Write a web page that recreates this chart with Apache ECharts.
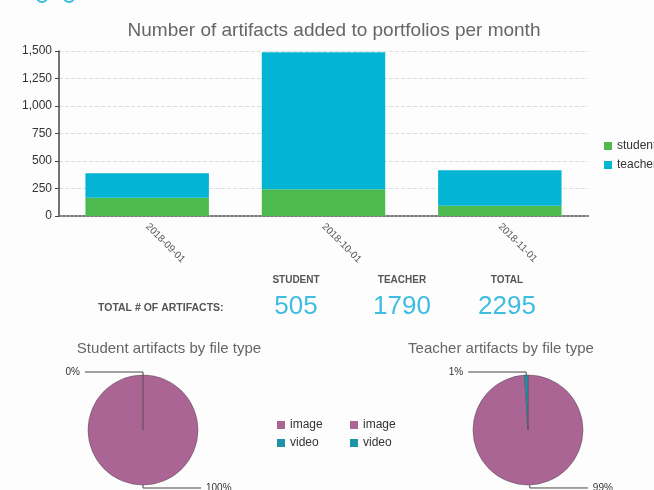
<!DOCTYPE html>
<html>
<head>
<meta charset="utf-8">
<script src="https://cdn.jsdelivr.net/npm/echarts@6/dist/echarts.min.js"></script>
<style>
  html, body { margin: 0; padding: 0; background: #fdfdfd; }
  #chart { width: 654px; height: 490px; }
</style>
</head>
<body>
<div id="chart"></div>
<script>
const months = ['2018-09-01', '2018-10-01', '2018-11-01']
const studentCounts = [167, 244, 94]
const teacherCounts = [222, 1245, 323]
const fileTypes = ['image', 'video']
const studentByType = [505, 0]
const teacherByType = [1772, 18]

const sum = arr => arr.reduce((a, b) => a + b, 0)
const studentTotal = sum(studentCounts)
const teacherTotal = sum(teacherCounts)

const font = '"Liberation Sans", Arial, sans-serif'
const pieColors = ['#aa6595', '#1c93a9']

const pieLabel = {
  show: true,
  position: 'outside',
  fontSize: 10,
  color: '#333',
  fontFamily: font,
  formatter: p => Math.round(p.percent) + '%'
}
const pieLabelLine = {
  show: true,
  length: 3,
  length2: 58,
  lineStyle: { color: '#444', width: 1 }
}

function pieSeries(name, center, values) {
  return {
    name: name,
    type: 'pie',
    center: center,
    radius: 55,
    startAngle: 90,
    clockwise: true,
    avoidLabelOverlap: false,
    animation: false,
    itemStyle: { borderColor: 'rgba(70,70,70,0.55)', borderWidth: 0.8 },
    label: pieLabel,
    labelLine: pieLabelLine,
    emphasis: { disabled: true },
    data: fileTypes.map((t, i) => ({
      name: t,
      value: values[i],
      itemStyle: { color: pieColors[i] }
    }))
  }
}

// legend look shared by the three legends
const legendBase = {
  orient: 'vertical',
  itemWidth: 8, itemHeight: 8, itemGap: 6,
  icon: 'rect',
  itemStyle: { borderWidth: 0 },
  textStyle: { fontSize: 12, color: '#333', fontFamily: font }
}

const chart = echarts.init(document.getElementById('chart'))

const option = {
  animation: false,
  textStyle: { fontFamily: font },
  title: [
    {
      text: 'Number of artifacts added to portfolios per month',
      left: 329, top: 16, textAlign: 'center',
      textStyle: { fontSize: 19, fontWeight: 'normal', color: '#666', fontFamily: font }
    },
    {
      text: 'Student artifacts by file type',
      left: 164, top: 336, textAlign: 'center',
      textStyle: { fontSize: 15, fontWeight: 'normal', color: '#666', fontFamily: font }
    },
    {
      text: 'Teacher artifacts by file type',
      left: 496, top: 336, textAlign: 'center',
      textStyle: { fontSize: 15, fontWeight: 'normal', color: '#666', fontFamily: font }
    }
  ],
  legend: [
    Object.assign({}, legendBase, { data: ['student', 'teacher'], left: 599, top: 135, itemGap: 7 }),
    Object.assign({}, legendBase, { data: fileTypes, left: 272, top: 414 }),
    Object.assign({}, legendBase, { data: fileTypes, left: 345, top: 414 })
  ],
  grid: { left: 59, right: 66, top: 51, bottom: 274, containLabel: false },
  xAxis: {
    type: 'category',
    data: months,
    axisLine: { lineStyle: { color: '#777', width: 2, type: 'dotted' } },
    axisTick: { show: false },
    axisLabel: { rotate: -45, fontSize: 10, color: '#555', margin: 9 }
  },
  yAxis: {
    type: 'value',
    min: 0, max: 1500, interval: 250,
    axisLine: { show: true, lineStyle: { color: '#444', width: 1.5 } },
    axisTick: { show: true, length: 4, lineStyle: { color: '#444' } },
    axisLabel: { fontSize: 12, color: '#333', margin: 7 },
    splitLine: { lineStyle: { color: '#ddd', type: 'dashed' } }
  },
  series: [
    {
      name: 'student', type: 'bar', stack: 'total', barWidth: '70%',
      itemStyle: { color: '#4dba4f' },
      emphasis: { disabled: true },
      data: studentCounts
    },
    {
      name: 'teacher', type: 'bar', stack: 'total', barWidth: '70%',
      itemStyle: { color: '#03b4d4' },
      emphasis: { disabled: true },
      data: teacherCounts
    },
    pieSeries('Student', [143, 430], studentByType),
    pieSeries('Teacher', [528, 430], teacherByType)
  ],
  graphic: [
    { type: 'circle', shape: { cx: 42, cy: -3, r: 5 }, style: { fill: 'none', stroke: '#33bde0', lineWidth: 2 } },
    { type: 'circle', shape: { cx: 69, cy: -3, r: 5 }, style: { fill: 'none', stroke: '#33bde0', lineWidth: 2 } },
    { type: 'text', x: 296, y: 280, style: { text: 'STUDENT', align: 'center', verticalAlign: 'middle', font: 'bold 10px ' + font, fill: '#555' } },
    { type: 'text', x: 402, y: 280, style: { text: 'TEACHER', align: 'center', verticalAlign: 'middle', font: 'bold 10px ' + font, fill: '#555' } },
    { type: 'text', x: 507, y: 280, style: { text: 'TOTAL', align: 'center', verticalAlign: 'middle', font: 'bold 10px ' + font, fill: '#555' } },
    { type: 'text', x: 98, y: 308, style: { text: 'TOTAL # OF ARTIFACTS:', align: 'left', verticalAlign: 'middle', font: 'bold 10.5px ' + font, fill: '#555' } },
    { type: 'text', x: 296, y: 307, style: { text: String(studentTotal), align: 'center', verticalAlign: 'middle', font: '26px ' + font, fill: '#3dbde0' } },
    { type: 'text', x: 402, y: 307, style: { text: String(teacherTotal), align: 'center', verticalAlign: 'middle', font: '26px ' + font, fill: '#3dbde0' } },
    { type: 'text', x: 507, y: 307, style: { text: String(studentTotal + teacherTotal), align: 'center', verticalAlign: 'middle', font: '26px ' + font, fill: '#3dbde0' } }
  ]
}

chart.setOption(option)
</script>
</body>
</html>
